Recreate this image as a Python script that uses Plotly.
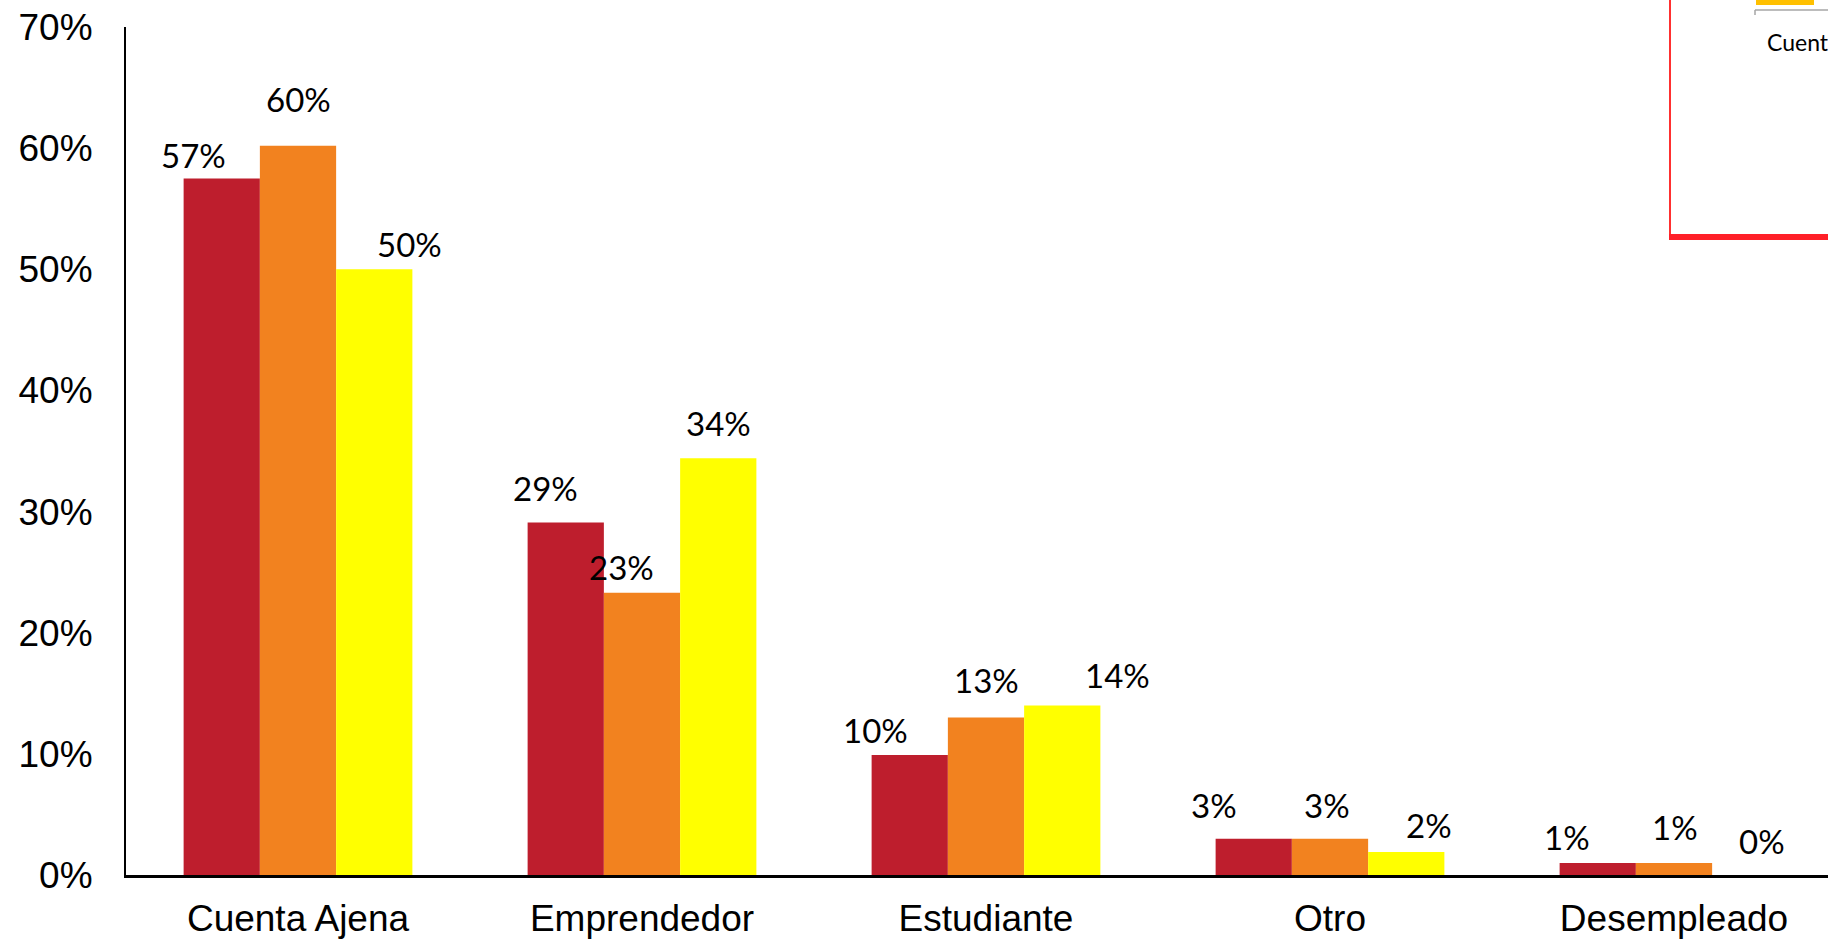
import plotly.graph_objects as go

categories = ["Cuenta Ajena", "Emprendedor", "Estudiante", "Otro", "Desempleado"]
serie_a = [0.575, 0.291, 0.099, 0.030, 0.010]
serie_b = [0.602, 0.233, 0.130, 0.030, 0.010]
serie_c = [0.500, 0.344, 0.140, 0.019, 0.000]
y_ticks = [0, 0.1, 0.2, 0.3, 0.4, 0.5, 0.6, 0.7]
y_tick_labels = ["0%", "10%", "20%", "30%", "40%", "50%", "60%", "70%"]
inset_text = "Cuent"

colors = ["#BE1E2D", "#F2821F", "#FFFF00"]

# label placement offsets (pixels) per series, per category
label_dx = [[-28, -20, -34, -40, -31], [0, -21, 0, -3, 1], [35, 0, 55, 23, 12]]
label_dy = [[23, 34, 25, 34, 26], [47, 26, 38, 34, 36], [25, 35, 30, 27, 34]]

W, H = 1828, 942
ML, MT, MB = 126, 27, 67
plot_w = W - ML
plot_h = H - MT - MB
cat_px = 344.0
bargap = 0.335

fig = go.Figure()
series = [serie_a, serie_b, serie_c]
for s, vals in enumerate(series):
    fig.add_trace(go.Bar(x=list(range(len(categories))), y=vals,
                         marker=dict(color=colors[s], line=dict(width=0)),
                         hoverinfo="skip", showlegend=False))

bar_w = (1 - bargap) / 3
annotations = []
for s, vals in enumerate(series):
    for i, v in enumerate(vals):
        annotations.append(dict(
            x=i + (s - 1) * bar_w, y=v, xref="x", yref="y",
            text=f"{round(v * 100):.0f}%", showarrow=False,
            xanchor="center", yanchor="middle",
            xshift=label_dx[s][i], yshift=label_dy[s][i],
            font=dict(family="Lato", size=33, color="#000000")))

def px_x(p):
    return (p - ML) / plot_w

def px_y(p):
    return (H - MB - p) / plot_h

shapes = [
    dict(type="line", xref="paper", yref="paper", x0=px_x(1670), x1=px_x(1670), y0=px_y(-5), y1=px_y(236),
         line=dict(color="#FF3030", width=2)),
    dict(type="line", xref="paper", yref="paper", x0=px_x(1669), x1=px_x(1840), y0=px_y(237), y1=px_y(237),
         line=dict(color="#FF2028", width=6)),
    dict(type="rect", xref="paper", yref="paper", x0=px_x(1756), x1=px_x(1814), y0=px_y(5), y1=px_y(-5),
         fillcolor="#FFC000", line=dict(width=0)),
    dict(type="line", xref="paper", yref="paper", x0=px_x(1755), x1=px_x(1840), y0=px_y(10), y1=px_y(10),
         line=dict(color="#A6A6A6", width=1.5)),
    dict(type="line", xref="paper", yref="paper", x0=px_x(1755), x1=px_x(1755), y0=px_y(10), y1=px_y(15),
         line=dict(color="#A6A6A6", width=1.5)),
]
annotations.append(dict(x=px_x(1765), y=px_y(42), xref="paper", yref="paper", text=inset_text,
                        showarrow=False, xanchor="left", yanchor="middle",
                        font=dict(family="Lato", size=23, color="#000000")))

fig.update_layout(
    width=W, height=H,
    margin=dict(l=ML, r=0, t=MT, b=MB, pad=0, autoexpand=False),
    plot_bgcolor="white", paper_bgcolor="white",
    barmode="group", bargap=bargap, bargroupgap=0,
    annotations=annotations, shapes=shapes,
    xaxis=dict(range=[-0.5, -0.5 + plot_w / cat_px], tickmode="array",
               tickvals=list(range(len(categories))), ticktext=categories,
               showgrid=False, zeroline=False, showline=True, linecolor="#000000", linewidth=2.5,
               ticks="outside", ticklen=9, tickcolor="rgba(0,0,0,0)", automargin=False,
               tickfont=dict(family="Liberation Sans", size=37, color="#000000")),
    yaxis=dict(range=[0, 0.7], tickmode="array", tickvals=y_ticks, ticktext=y_tick_labels,
               showgrid=False, zeroline=False, showline=True, linecolor="#000000", linewidth=2,
               ticks="outside", ticklen=24, tickcolor="rgba(0,0,0,0)", automargin=False,
               tickfont=dict(family="Liberation Sans", size=37, color="#000000")),
    font=dict(family="Liberation Sans"),
)

fig.write_html("out.html", config={"displayModeBar": False},
               post_script="document.body.style.margin='0';document.body.style.overflow='hidden';")
